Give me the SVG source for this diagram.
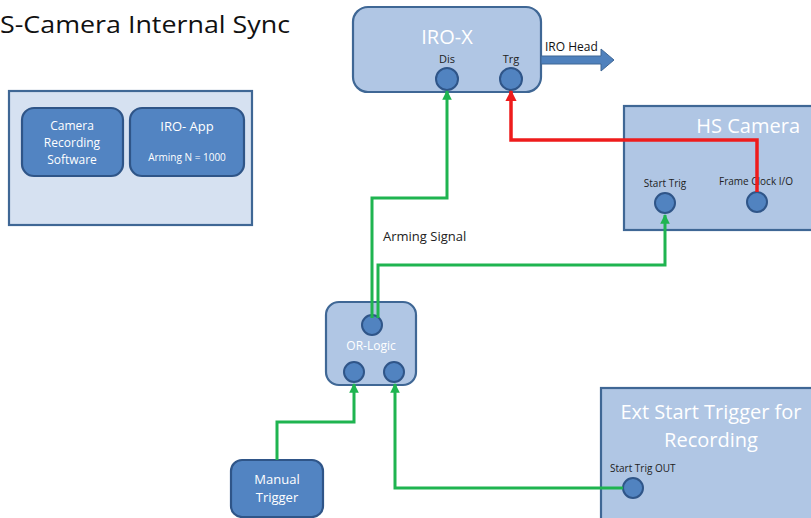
<svg xmlns="http://www.w3.org/2000/svg" width="811" height="518" viewBox="0 0 811 518">
<style>
.lt{fill:#b0c6e4;stroke:#3f6795;stroke-width:2.2}
.pn{fill:#d6e1f1;stroke:#3f6795;stroke-width:2.2}
.dk{fill:#5284c2;stroke:#2f5588;stroke-width:2.2}
.pt{fill:#5183c0;stroke:#2f5588;stroke-width:2}
.t{font-family:"Open Sans","Liberation Sans",sans-serif}
.w{fill:#ffffff}
.b{fill:#222222}
.g{fill:none;stroke:#1fb450;stroke-width:3}
.r{fill:none;stroke:#ee1c1c;stroke-width:3.5}
</style>
<defs>
<marker id="ag" viewBox="0 0 10 10" refX="9" refY="5" markerWidth="3.2" markerHeight="3.2" orient="auto"><path d="M0,0L10,5L0,10z" fill="#1fb450"/></marker>
<marker id="ar" viewBox="0 0 10 10" refX="9" refY="5" markerWidth="3.2" markerHeight="3.2" orient="auto"><path d="M0,0L10,5L0,10z" fill="#ee1c1c"/></marker>
</defs>
<text class="t" x="0" y="33" font-size="24" fill="#111" textLength="290" lengthAdjust="spacingAndGlyphs">S-Camera Internal Sync</text>

<g id="software-panel">
<rect class="pn" x="9" y="91" width="243" height="134"/>
<g id="camera-recording-software">
<rect class="dk" x="22" y="108" width="101" height="68" rx="12"/>
<text class="t w" font-size="12" text-anchor="middle"><tspan x="72" y="130">Camera</tspan><tspan x="72" y="147">Recording</tspan><tspan x="72" y="164">Software</tspan></text>
</g>
<g id="iro-app">
<rect class="dk" x="130" y="108" width="114" height="68" rx="12"/>
<text class="t w" font-size="13" text-anchor="middle" x="187" y="131">IRO- App</text>
<text class="t w" font-size="10" text-anchor="middle" x="187" y="161">Arming N = 1000</text>
</g>
</g>

<g id="iro-x">
<rect class="lt" x="353" y="7" width="188" height="85" rx="15"/>
<text class="t w" font-size="20" text-anchor="middle" x="447" y="44">IRO-X</text>
<text class="t b" font-size="11" text-anchor="middle" x="447" y="63">Dis</text>
<text class="t b" font-size="11" text-anchor="middle" x="511" y="63">Trg</text>
<circle class="pt" cx="447" cy="79" r="11"/>
<circle class="pt" cx="511" cy="79" r="11"/>
</g>

<g id="iro-head">
<path d="M541,56H601V49L614,60L601,71V64H541z" fill="#4f81bd" stroke="#3f6795" stroke-width="1"/>
<text class="t" font-size="12" fill="#111" x="545" y="51">IRO Head</text>
</g>

<g id="hs-camera">
<rect class="lt" x="624" y="106" width="190" height="124"/>
<text class="t w" font-size="20" text-anchor="end" x="800" y="133">HS Camera</text>
<text class="t b" font-size="10" text-anchor="middle" x="665" y="187">Start Trig</text>
<text class="t b" font-size="10" text-anchor="middle" x="756" y="185">Frame Clock I/O</text>
<circle class="pt" cx="665" cy="203" r="10"/>
<circle class="pt" cx="757" cy="202" r="10"/>
</g>

<g id="or-logic">
<rect class="lt" x="326" y="302" width="90" height="83" rx="13"/>
<text class="t w" font-size="12" text-anchor="middle" x="371" y="350">OR-Logic</text>
<circle class="pt" cx="372" cy="325" r="10"/>
<circle class="pt" cx="354" cy="372" r="10"/>
<circle class="pt" cx="394" cy="372" r="10"/>
</g>

<g id="ext-start-trigger">
<rect class="lt" x="601" y="388" width="214" height="132"/>
<text class="t w" font-size="20" text-anchor="middle" x="711" y="419">Ext Start Trigger for</text>
<text class="t w" font-size="20" text-anchor="middle" x="711" y="447">Recording</text>
<text class="t b" font-size="10" x="610" y="472">Start Trig OUT</text>
<circle class="pt" cx="633" cy="488" r="10"/>
</g>

<g id="manual-trigger">
<rect class="dk" x="231" y="460" width="92" height="57" rx="11"/>
<text class="t w" font-size="13" text-anchor="middle"><tspan x="277" y="484">Manual</tspan><tspan x="277" y="502">Trigger</tspan></text>
</g>

<g id="connectors">
<path class="r" d="M757,192V140H511V91" marker-end="url(#ar)"/>
<path class="g" d="M372,318V198H447V91" marker-end="url(#ag)"/>
<path class="g" d="M378,318V265H665V215" marker-end="url(#ag)"/>
<path class="g" d="M277,460V422H354V384" marker-end="url(#ag)"/>
<path class="g" d="M623,488H395V384" marker-end="url(#ag)"/>
<text class="t" font-size="13" fill="#222" x="383" y="241">Arming Signal</text>
</g>
</svg>
